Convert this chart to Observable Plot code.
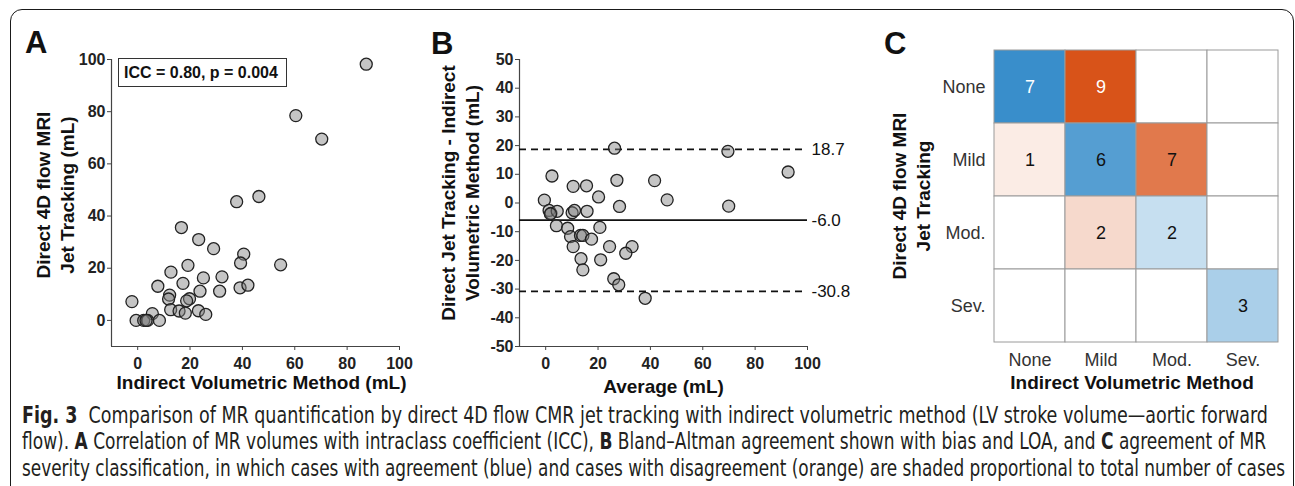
<!DOCTYPE html>
<html><head><meta charset="utf-8">
<script src="https://cdn.jsdelivr.net/npm/d3@7"></script>
<script src="https://cdn.jsdelivr.net/npm/@observablehq/plot@0.6"></script>
<style>
html,body{margin:0;padding:0;background:#fff;overflow:hidden}
#root{position:relative;width:1295px;height:486px;overflow:hidden;font-family:"Liberation Sans",Arial,Helvetica,sans-serif}
#frame{position:absolute;left:10px;top:9px;width:1284px;height:540px;border:1.3px solid #1a1a1a;border-radius:12px;box-sizing:border-box}
.panel{position:absolute;top:0}
.letter{position:absolute;font-weight:bold;font-size:31px;line-height:1;color:#111}
.iccbox{position:absolute;left:118px;top:58px;width:169px;height:29px;border:1.2px solid #333;box-sizing:border-box;font-weight:bold;font-size:16px;line-height:27px;padding-left:5px;color:#111;white-space:nowrap;background:#fff}
.cap{position:absolute;left:22px;white-space:nowrap;font-family:"Liberation Sans Narrow","DejaVu Sans Condensed",sans-serif;font-size:23.5px;line-height:1;color:#231f20;transform-origin:0 50%}
</style></head>
<body><div id="root">
<div id="frame"></div>
<div id="pa" class="panel" style="left:0"></div>
<div id="pb" class="panel" style="left:420px"></div>
<div id="pc" class="panel" style="left:870px"></div>
<div class="letter" style="left:25px;top:27px">A</div>
<div class="letter" style="left:431px;top:28px">B</div>
<div class="letter" style="left:884px;top:28px">C</div>
<div class="iccbox">ICC = 0.80, p = 0.004</div>
<div class="cap" id="cap1" style="top:404px"><b>Fig. 3</b>&nbsp; Comparison of MR quantification by direct 4D flow CMR jet tracking with indirect volumetric method (LV stroke volume—aortic forward</div>
<div class="cap" id="cap2" style="top:430px">flow). <b>A</b> Correlation of MR volumes with intraclass coefficient (ICC), <b>B</b> Bland–Altman agreement shown with bias and LOA, and <b>C</b> agreement of MR</div>
<div class="cap" id="cap3" style="top:456.5px">severity classification, in which cases with agreement (blue) and cases with disagreement (orange) are shaded proportional to total number of cases</div>
</div>
<script>
// ---- Panel A: correlation ----
const aIndirect = [87.3, 60.4, 70.3, 37.8, 46.3, 16.7, 23.3, 29.0, 40.5, 39.3, 54.6, 19.2, 12.7, 25.1, 32.2, 17.3, 7.7, 39.1, 42.1, 23.8, 31.3, 12.2, 11.8, 19.8, 18.7, -2.2, 5.6, 12.6, 15.8, 18.2, 23.2, 26.0, -0.6, 2.3, 3.8, 8.3, 3.2];
const aDirect   = [98.2, 78.5, 69.5, 45.5, 47.5, 35.6, 31.0, 27.5, 25.4, 22.0, 21.3, 21.1, 18.5, 16.3, 16.7, 14.2, 13.1, 12.5, 13.5, 11.2, 11.2, 9.7, 8.2, 8.3, 7.5, 7.2, 2.6, 4.1, 3.6, 2.8, 3.7, 2.3, 0, 0, 0, 0, 0];
const ticksA = [0, 20, 40, 60, 80, 100];

// ---- Panel B: Bland-Altman ----
const baAverage    = [26.3, 69.6, 92.6, 2.4, 10.5, 15.6, 27.2, 41.6, 20.2, 46.4, -0.5, 28.2, 69.9, 1.3, 2.0, 4.4, 10.1, 11.0, 15.8, 4.1, 8.4, 20.7, 9.5, 13.3, 14.2, 17.5, 10.5, 24.4, 33.0, 30.6, 13.5, 21.0, 14.2, 26.0, 27.9, 38.0, 1.8];
const baDifference = [19.1, 18.0, 10.8, 9.4, 5.8, 6.0, 7.9, 7.8, 2.1, 1.1, 1.0, -1.2, -1.1, -2.6, -3.6, -2.9, -3.4, -2.6, -2.9, -7.9, -8.8, -8.5, -11.7, -11.3, -11.3, -12.6, -15.2, -15.2, -15.2, -17.5, -19.4, -19.8, -23.3, -26.4, -28.5, -33.2, -3.8];
const baLines = [18.7, -6.0, -30.8];
const baLineLabels = ["18.7", "-6.0", "-30.8"];
const baLineIsLimit = [true, false, true];
const ticksBx = [0, 20, 40, 60, 80, 100];
const ticksBy = [-50, -40, -30, -20, -10, 0, 10, 20, 30, 40, 50];

// ---- Panel C: severity agreement ----
const severity = ["None", "Mild", "Mod.", "Sev."];
const cDirect   = ["None", "None", "Mild", "Mild", "Mild", "Mod.", "Mod.", "Sev."];
const cIndirect = ["None", "Mild", "None", "Mild", "Mod.", "Mild", "Mod.", "Sev."];
const cCount    = [7, 9, 1, 6, 7, 2, 2, 3];

const font = "'Liberation Sans', Arial, Helvetica, sans-serif";
const fmt = d => String(d);
const yTitle = (t, dx, dy) => Plot.text([t], {frameAnchor: "left", textAnchor: "middle", lineAnchor: "middle", dx, dy, rotate: -90, lineHeight: 1.22, fontSize: 19, fontWeight: "bold", fill: "#111"});
const xTitle = (t, dx, dy) => Plot.text([t], {frameAnchor: "bottom", textAnchor: "middle", lineAnchor: "middle", dx, dy, fontSize: 19, fontWeight: "bold", fill: "#111"});

const ptsA = aIndirect.map((x, i) => ({x, y: aDirect[i]}));
const plotA = Plot.plot({
  width: 420, height: 400, marginLeft: 111, marginRight: 21, marginTop: 59, marginBottom: 54,
  x: {domain: [-10, 100]}, y: {domain: [-10, 100]},
  style: {fontFamily: font, fontSize: "16px", fontWeight: "bold", color: "#222", background: "transparent", overflow: "visible"},
  marks: [
    Plot.ruleX([-10], {stroke: "#444", strokeWidth: 1.2}),
    Plot.ruleY([-10], {stroke: "#444", strokeWidth: 1.2}),
    Plot.axisX({ticks: ticksA, tickSize: 4, tickPadding: 7, tickFormat: fmt, label: null, stroke: "#444"}),
    Plot.axisY({ticks: ticksA, tickSize: 4, tickPadding: 2, tickFormat: fmt, label: null, stroke: "#444"}),
    Plot.dot(ptsA, {x: "x", y: "y", r: 6, fill: "#7f7f7f", fillOpacity: 0.45, stroke: "#222", strokeWidth: 1.3}),
    yTitle("Direct 4D flow MRI\nJet Tracking (mL)", -57, -8),
    xTitle("Indirect Volumetric Method (mL)", 6, 36)
  ]
});
document.getElementById("pa").append(plotA);

const ptsB = baAverage.map((x, i) => ({x, y: baDifference[i]}));
const linesB = baLines.map((v, i) => ({v, label: baLineLabels[i], limit: baLineIsLimit[i]}));
const plotB = Plot.plot({
  width: 450, height: 400, marginLeft: 99, marginRight: 63, marginTop: 59, marginBottom: 54,
  x: {domain: [-10, 100]}, y: {domain: [-50, 50]},
  style: {fontFamily: font, fontSize: "16px", fontWeight: "bold", color: "#222", background: "transparent", overflow: "visible"},
  marks: [
    Plot.ruleX([-10], {stroke: "#444", strokeWidth: 1.2}),
    Plot.ruleY([-50], {stroke: "#444", strokeWidth: 1.2}),
    Plot.axisX({ticks: ticksBx, tickSize: 4, tickPadding: 7, tickFormat: fmt, label: null, stroke: "#444"}),
    Plot.axisY({ticks: ticksBy, tickSize: 4, tickPadding: 2, tickFormat: fmt, label: null, stroke: "#444"}),
    Plot.ruleY(linesB.filter(d => d.limit), {y: "v", stroke: "#111", strokeWidth: 1.6, strokeDasharray: "7,5"}),
    Plot.ruleY(linesB.filter(d => !d.limit), {y: "v", stroke: "#111", strokeWidth: 1.8}),
    Plot.text(linesB, {y: "v", text: "label", frameAnchor: "right", dx: 4, textAnchor: "start", fontSize: 17, fontWeight: "normal", fill: "#111"}),
    Plot.dot(ptsB, {x: "x", y: "y", r: 6, fill: "#7f7f7f", fillOpacity: 0.45, stroke: "#222", strokeWidth: 1.3}),
    yTitle("Direct Jet Tracking - Indirect\nVolumetric Method (mL)", -60, -10),
    xTitle("Average (mL)", 0, 40)
  ]
});
document.getElementById("pb").append(plotB);

const countMap = new Map(cCount.map((n, i) => [cDirect[i] + "|" + cIndirect[i], n]));
const cells = severity.flatMap(r => severity.map(c => ({r, c, n: countMap.get(r + "|" + c) || 0})));
const blueScale = d3.scaleLinear().domain([0, 7]).range(["#ffffff", "#398ecb"]).interpolate(d3.interpolateRgb);
const orangeScale = d3.scaleLinear().domain([0, 9]).range(["#ffffff", "#d85319"]).interpolate(d3.interpolateRgb);
const cellFill = d => d.n === 0 ? "#ffffff" : (d.r === d.c ? blueScale(d.n) : orangeScale(d.n));
const textFill = d => d3.lab(cellFill(d)).l < 58 ? "#ffffff" : "#111111";
const plotC = Plot.plot({
  width: 425, height: 400, marginLeft: 122, marginRight: 16, marginTop: 48, marginBottom: 57,
  x: {domain: severity, padding: 0}, y: {domain: severity, padding: 0},
  color: {type: "identity"},
  style: {fontFamily: font, fontSize: "18px", fontWeight: "normal", color: "#333", background: "transparent", overflow: "visible"},
  marks: [
    Plot.cell(cells, {x: "c", y: "r", fill: cellFill, stroke: "#9a9a9a", strokeWidth: 1}),
    Plot.text(cells.filter(d => d.n > 0), {x: "c", y: "r", text: d => String(d.n), fill: textFill, fontSize: 18}),
    Plot.axisX({tickSize: 0, tickPadding: 10, label: null}),
    Plot.axisY({tickSize: 0, tickPadding: 7, label: null}),
    yTitle("Direct 4D flow MRI\nJet Tracking", -82, 0),
    xTitle("Indirect Volumetric Method", -4, 39)
  ]
});
document.getElementById("pc").append(plotC);

// fit caption lines to the figure width
const capTargets = {cap1: 1246, cap2: 1244, cap3: 1263};
for (const [id, w] of Object.entries(capTargets)) {
  const el = document.getElementById(id);
  const natural = el.getBoundingClientRect().width;
  el.style.transform = `scaleX(${w / natural})`;
}
</script>
</body></html>
